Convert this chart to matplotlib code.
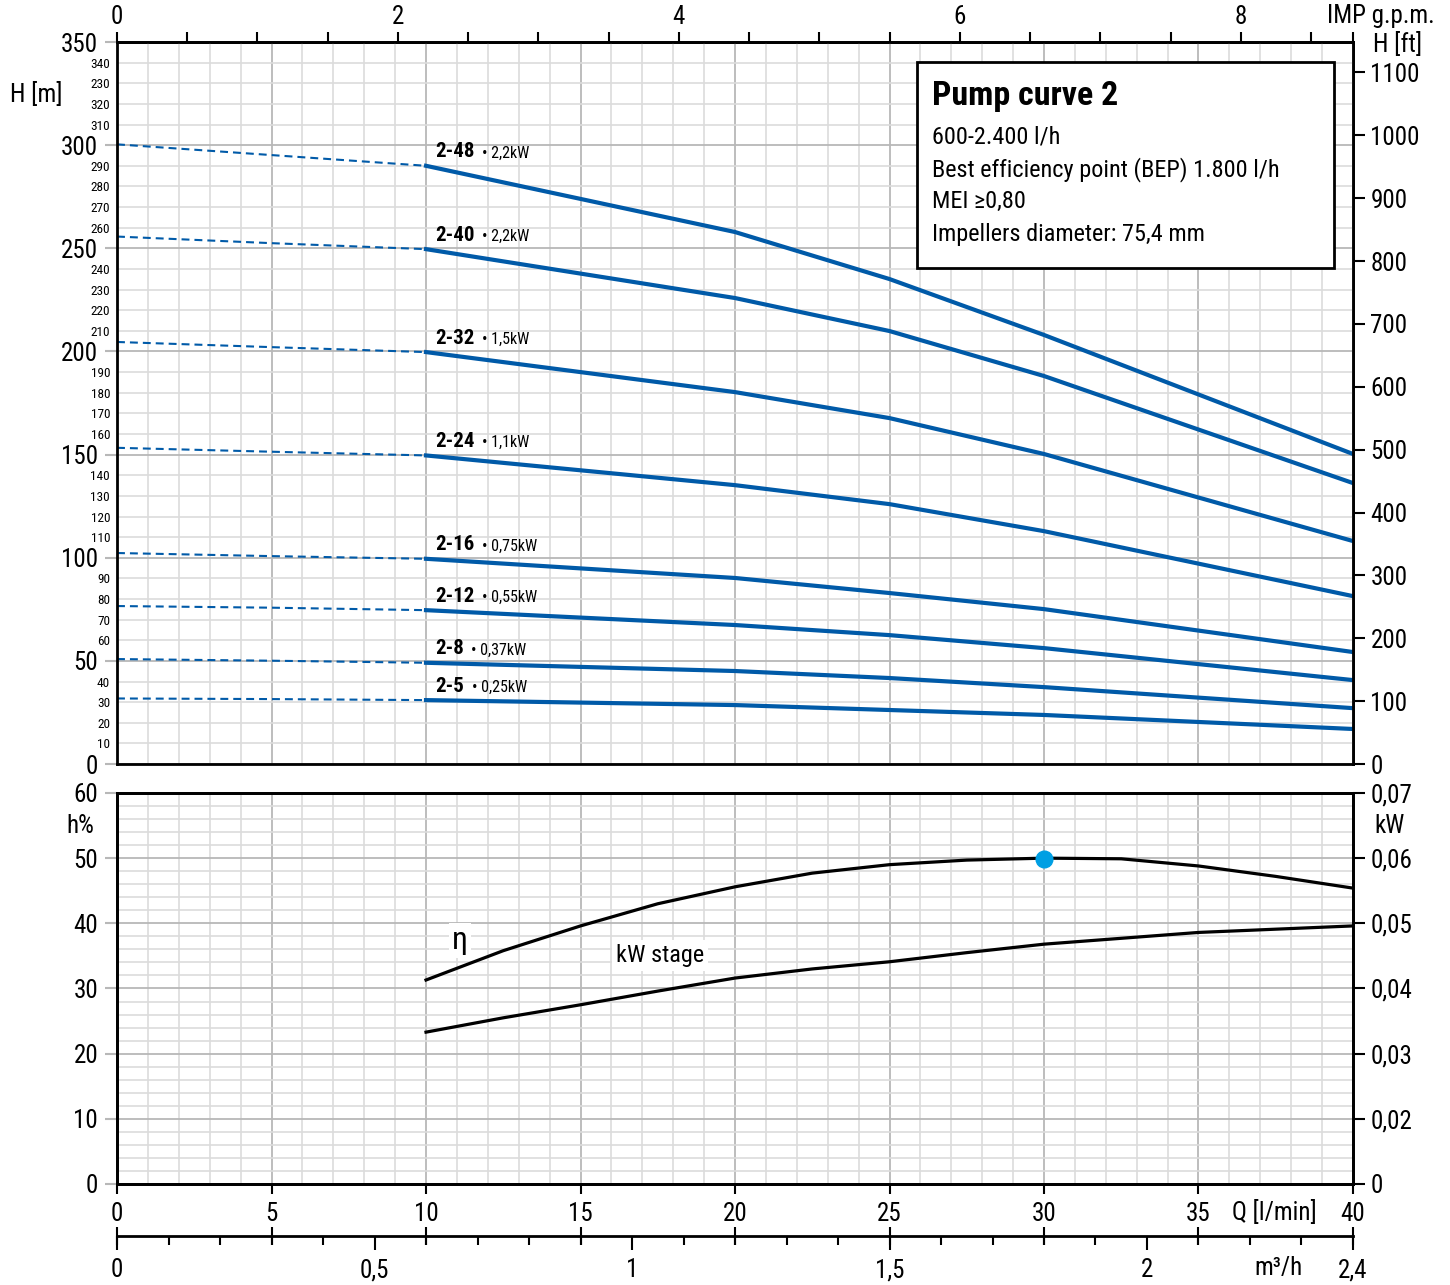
import numpy as np
import matplotlib
matplotlib.use('Agg')
import matplotlib.pyplot as plt
from matplotlib.patches import Rectangle
from matplotlib.ticker import MultipleLocator

plt.rcParams['font.family'] = ['Roboto Condensed', 'DejaVu Sans']

# flow Q [l/min]
q_dash = [0, 5, 10]
q_curve = [10, 20, 25, 30, 40]

models = ['2-48', '2-40', '2-32', '2-24', '2-16', '2-12', '2-8', '2-5']
motors = ['2,2kW', '2,2kW', '1,5kW', '1,1kW', '0,75kW', '0,55kW', '0,37kW', '0,25kW']

# head H [m], dashed part 0-10 l/min
h_dash = [
    [300.4, 295.2, 290.0],
    [255.7, 252.5, 249.6],
    [204.6, 202.1, 199.7],
    [153.3, 151.4, 149.6],
    [102.3, 100.8, 99.5],
    [76.6, 75.8, 74.6],
    [50.9, 50.1, 49.1],
    [31.8, 31.5, 31.0],
]
# head H [m], working range 10-40 l/min
h_curve = [
    [290.0, 257.9, 235.1, 208.0, 150.3],
    [249.6, 225.9, 209.9, 188.1, 136.2],
    [199.7, 180.3, 167.7, 150.3, 108.1],
    [149.6, 135.2, 126.0, 112.9, 81.4],
    [99.5, 90.2, 82.9, 75.1, 54.3],
    [74.6, 67.4, 62.5, 56.2, 40.7],
    [49.1, 45.1, 41.7, 37.3, 27.1],
    [31.0, 28.6, 26.2, 23.8, 17.0],
]

# efficiency and power per stage
q_eff = [10, 12.5, 15, 17.5, 20, 22.5, 25, 27.5, 30, 32.5, 35, 37.5, 40]
eta = [31.3, 35.8, 39.6, 43.0, 45.6, 47.7, 49.0, 49.7, 50.0, 49.9, 48.8, 47.2, 45.4]
kw_stage = [0.0333, 0.0355, 0.0375, 0.0396, 0.0416, 0.0430, 0.0441, 0.0455,
            0.0468, 0.0477, 0.0486, 0.0491, 0.0496]
bep_q, bep_eta = 30, 49.9

h_minor = [v for v in range(10, 350, 10) if v % 50]
h_minor_labels = ['230' if v == 330 else str(v) for v in h_minor]
kw_ticks = [0.01, 0.02, 0.03, 0.04, 0.05, 0.06, 0.07]
kw_labels = ['0', '0,02', '0,03', '0,04', '0,05', '0,06', '0,07']
m3h_ticks = [0, 0.5, 1, 1.5, 2, 2.4]
m3h_labels = ['0', '0,5', '1', '1,5', '2', '2,4']

info_title = 'Pump curve 2'
info_lines = ['600-2.400 l/h', 'Best efficiency point (BEP) 1.800 l/h',
              'MEI \u22650,80', 'Impellers diameter: 75,4 mm']

blue = '#005aa8'
grid_minor = '#dcdcdc'
grid_major = '#b8b8b8'

fig = plt.figure(figsize=(14.5, 12.85), dpi=100)
ax = fig.add_axes([0.0807, 0.4054, 0.8524, 0.5619])
ax2 = fig.add_axes([0.0807, 0.0786, 0.8524, 0.3043])


def style_grid(a):
    a.set_axisbelow(True)
    a.grid(which='minor', color=grid_minor, lw=1.2)
    a.grid(which='major', color=grid_major, lw=1.3)
    for s in a.spines.values():
        s.set_linewidth(2)


# ---- top panel: head curves
ax.set_xlim(0, 40)
ax.set_ylim(0, 350)
ax.set_xticks(range(0, 41, 5))
ax.xaxis.set_minor_locator(MultipleLocator(1))
ax.set_yticks(range(0, 351, 50))
ax.set_yticks(h_minor, labels=h_minor_labels, minor=True)
style_grid(ax)
ax.tick_params(axis='x', which='both', bottom=False, labelbottom=False)
ax.tick_params(axis='y', which='major', direction='out', length=8.6, width=1.5,
               color=grid_major, labelsize=18, pad=5)
ax.tick_params(axis='y', which='minor', length=0, labelsize=9.5, pad=5)

for m, kw, hd, hc in zip(models, motors, h_dash, h_curve):
    ax.plot(q_dash, hd, color=blue, lw=1.5, dashes=(3.8, 2.4))
    ax.plot(q_curve, hc, color=blue, lw=3)
    t = ax.annotate(m, xy=(q_curve[0], hc[0]), xytext=(7, 10), textcoords='offset points',
                    fontsize=15, fontweight='bold', va='center')
    ax.annotate('\u2022 ' + kw, xy=(1, 0.45), xycoords=t, xytext=(5, 0),
                textcoords='offset points', va='center', fontsize=11.5)

gpm = ax.secondary_xaxis('top', functions=(lambda q: q / 4.54609, lambda g: g * 4.54609))
gpm_ticks = list(np.arange(0, 9, 0.5)) + [40 / 4.54609]
gpm.set_xticks(gpm_ticks, labels=[('%d' % v if v in (0, 2, 4, 6, 8) else '') for v in gpm_ticks])
gpm.tick_params(direction='out', length=7.2, width=1.5, labelsize=18, pad=2)
gpm.spines['top'].set_linewidth(2)

ft = ax.secondary_yaxis('right', functions=(lambda h: h * 3.28084, lambda f: f / 3.28084))
ft.set_yticks(range(0, 1101, 100))
ft.tick_params(direction='out', length=8.6, width=1.5, labelsize=18, pad=4)
ft.spines['right'].set_linewidth(2)

ax.add_patch(Rectangle((0.647, 0.687), 0.338, 0.285, transform=ax.transAxes,
                       facecolor='white', edgecolor='black', lw=2, zorder=5))
ax.text(0.659, 0.925, info_title, transform=ax.transAxes, fontsize=24.5,
        fontweight='bold', va='center', zorder=6)
for i, line in enumerate(info_lines):
    ax.text(0.659, 0.868 - i * 0.0447, line, transform=ax.transAxes, fontsize=17.5,
            va='center', zorder=6)

# ---- bottom panel: efficiency and kW per stage
ax2.set_xlim(0, 40)
ax2.set_ylim(0, 60)
ax2.set_xticks(range(0, 41, 5))
ax2.xaxis.set_minor_locator(MultipleLocator(1))
ax2.set_yticks(range(0, 61, 10))
ax2.yaxis.set_minor_locator(MultipleLocator(2))
style_grid(ax2)
ax2.tick_params(axis='x', which='major', direction='out', length=7, width=1.5,
                labelsize=18, pad=6)
ax2.tick_params(axis='x', which='minor', length=0)
ax2.tick_params(axis='y', which='major', direction='out', length=8.6, width=1.5,
                color=grid_major, labelsize=18, pad=5)
ax2.tick_params(axis='y', which='minor', length=0)

ax2.plot(q_eff, eta, color='black', lw=2.3)
ax2.plot(bep_q, bep_eta, 'o', color='#009fe3', ms=12, zorder=5)
ax2.text(11.1, 37.4, '\u03b7', fontsize=23, ha='center', va='center',
         bbox=dict(facecolor='white', edgecolor='none', pad=2))
ax2.text(17.57, 35.1, 'kW stage', fontsize=17.5, ha='center', va='center',
         bbox=dict(facecolor='white', edgecolor='none', pad=3))

axk = ax2.twinx()
axk.set_ylim(0.01, 0.07)
axk.set_yticks(kw_ticks, labels=kw_labels)
axk.tick_params(direction='out', length=8.6, width=1.5, labelsize=18, pad=4)
for s in axk.spines.values():
    s.set_linewidth(2)
axk.plot(q_eff, kw_stage, color='black', lw=2.3)

m3h = ax2.secondary_xaxis(-0.133, functions=(lambda q: q * 0.06, lambda v: v / 0.06))
m3h.set_xticks(m3h_ticks, labels=m3h_labels)
m3h.set_xticks(np.arange(0, 2.41, 0.1), minor=True)
m3h.tick_params(which='major', direction='out', length=10, width=1.5, labelsize=18, pad=6)
m3h.tick_params(which='minor', direction='out', length=6.5, width=1.5)
m3h.spines['bottom'].set_linewidth(2)

lmin = ax2.secondary_xaxis(-0.133)
lmin.set_xticks(range(0, 41, 5), labels=[])
lmin.tick_params(direction='inout', length=13, width=1.5)
lmin.spines['bottom'].set_visible(False)

# axis titles
fig.text(10 / 1450, 1 - 95 / 1285, 'H [m]', fontsize=18, va='center')
fig.text(1373 / 1450, 1 - 44 / 1285, 'H [ft]', fontsize=18, va='center')
fig.text(1381 / 1450, 1 - 16 / 1285, 'IMP g.p.m.', fontsize=18, va='center', ha='center')
fig.text(80 / 1450, 1 - 826 / 1285, 'h%', fontsize=18, va='center', ha='center')
fig.text(1389 / 1450, 1 - 826 / 1285, 'kW', fontsize=18, va='center', ha='center')
fig.text(1274 / 1450, 1 - 1213 / 1285, 'Q [l/min]', fontsize=18, va='center', ha='center')
fig.text(1279 / 1450, 1 - 1268 / 1285, 'm\u00b3/h', fontsize=18, va='center', ha='center')

fig.savefig('out.png', dpi=100)
